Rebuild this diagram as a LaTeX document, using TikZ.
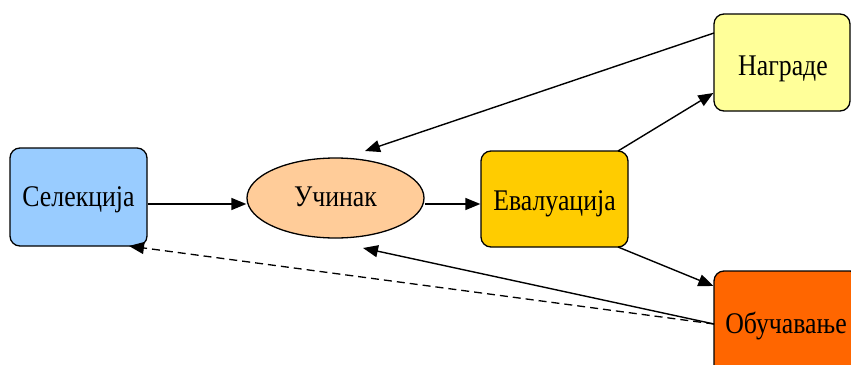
\documentclass[tikz,border=0pt]{standalone}
\usepackage{fontspec}
\usepackage{graphicx}
\setmainfont{Liberation Serif}
\newfontfamily\lblfont{Liberation Serif}
\usetikzlibrary{arrows.meta,shapes.geometric}
\definecolor{cblue}{HTML}{99CCFF}
\definecolor{corange}{HTML}{FFCC99}
\definecolor{cgold}{HTML}{FFCC00}
\definecolor{cyel}{HTML}{FFFF99}
\definecolor{cred}{HTML}{FF6600}
\newcommand\lbl[1]{\scalebox{0.86}[1]{\lblfont\fontsize{30}{36}\selectfont #1}}
\tikzset{
  box/.style={draw=black, line width=1.3pt, rounded corners=10pt, inner sep=0pt},
  txt/.style={inner sep=0pt},
  conn/.style={line width=1.4pt, -{Triangle[length=15pt,width=12pt]}},
}
\begin{document}
\begin{tikzpicture}[x=1pt,y=-1pt]
\useasboundingbox (0,0) rectangle (851,364);
\clip (0,0) rectangle (851,364);
\node[box, fill=cblue, minimum width=137pt, minimum height=98pt] (sel) at (78.5,197) {};
\node[txt] (selt) at (78.5,200) {\lbl{Селекција}};
\node[draw=black, line width=1.3pt, ellipse, fill=corange, minimum width=177pt, minimum height=80pt, inner sep=0pt] (uc) at (335.5,198) {};
\node[txt] (uct) at (335.5,197) {\lbl{Учинак}};
\node[box, fill=cgold, minimum width=147pt, minimum height=96pt] (ev) at (554.5,199) {};
\node[txt] (evt) at (554.5,204) {\lbl{Евалуација}};
\node[box, fill=cyel, minimum width=136pt, minimum height=97pt] (na) at (782,62.5) {};
\node[txt] (nat) at (783,69) {\lbl{Награде}};
\node[box, fill=cred, minimum width=146pt, minimum height=104pt] (ob) at (787,323) {};
\node[txt] (obt) at (786,326) {\lbl{Обучавање}};
\coordinate (obl) at (714,324);
\coordinate (nal) at (714,33);
\coordinate (ucT) at (365,151);
\coordinate (ucB) at (363,248);
\coordinate (selB) at (129,246);
\coordinate (evne) at (618,151);
\coordinate (evse) at (618,247);
\draw[conn] (sel.east |- 0,204) -- (uc.west |- 0,204);
\draw[conn] (uc.east |- 0,204) -- (ev.west |- 0,204);
\draw[conn] (evne) -- (na.west |- 0,93);
\draw[conn] (nal) -- (ucT);
\draw[conn] (evse) -- (ob.west |- 0,286);
\draw[conn] (obl) -- (ucB);
\draw[line width=1.3pt, dash pattern=on 8pt off 5pt, -{Triangle[length=15pt,width=12pt]}] (obl) -- (selB);
\end{tikzpicture}
\end{document}
